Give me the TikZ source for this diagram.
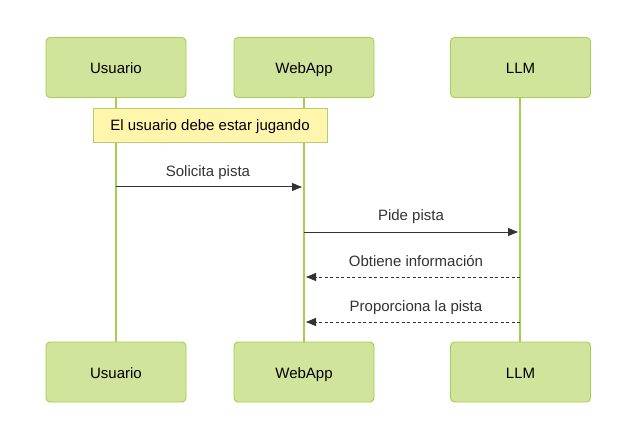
\documentclass[tikz,border=0pt]{standalone}
\usepackage{fontspec}
\setmainfont{Liberation Sans}
\usetikzlibrary{arrows.meta}
\definecolor{actfill}{HTML}{D0E49C}
\definecolor{actdraw}{HTML}{A5CF4C}
\definecolor{notefill}{HTML}{FFF5AD}
\definecolor{notedraw}{HTML}{B4CD6E}
\definecolor{ink}{HTML}{333333}
\tikzset{
  txt/.style={font=\fontsize{15pt}{18pt}\selectfont, text height=12pt, text depth=0pt},
  actor/.style={txt, draw=actdraw, fill=actfill, line width=0.9pt, rounded corners=4pt,
    minimum width=140pt, minimum height=60pt, inner sep=0pt, text=black},
  notebox/.style={txt, draw=notedraw, fill=notefill, line width=0.9pt,
    minimum width=234pt, minimum height=34pt, inner sep=0pt, text=black},
  life/.style={draw=actdraw, line width=1.8pt},
  msg/.style={draw=ink, line width=1pt, -{Triangle[length=10pt,width=8pt]}},
  ret/.style={msg, dash pattern=on 3pt off 2.5pt},
  lbl/.style={txt, text=ink, inner sep=0pt},
}
\begin{document}
\begin{tikzpicture}[x=1pt,y=-1pt]
\useasboundingbox (0,0) rectangle (633,444);
% lifelines
\coordinate (u1) at (116,98); \coordinate (u2) at (116,342);
\coordinate (w1) at (304,98); \coordinate (w2) at (304,342);
\coordinate (l1) at (520,98); \coordinate (l2) at (520,342);
\draw[life] (u1) -- (u2);
\draw[life] (w1) -- (w2);
\draw[life] (l1) -- (l2);
% actors
\node[actor] (ut) at (116,67.5) {Usuario};
\node[actor] (wt) at (304,67.5) {WebApp};
\node[actor] (lt) at (520.5,67.5) {LLM};
\node[actor] (ub) at (116,372) {Usuario};
\node[actor] (wb) at (304,372) {WebApp};
\node[actor] (lb) at (520.5,372) {LLM};
% note
\node[notebox] (note) at (210,125) {El usuario debe estar jugando};
% messages
\coordinate (m1a) at (116,187); \coordinate (m1b) at (302,187);
\coordinate (m2a) at (304,232); \coordinate (m2b) at (518,232);
\coordinate (m3a) at (520,277); \coordinate (m3b) at (306,277);
\coordinate (m4a) at (520,322); \coordinate (m4b) at (306,322);
\draw[msg] (m1a) -- (m1b);
\draw[msg] (m2a) -- (m2b);
\draw[ret] (m3a) -- (m3b);
\draw[ret] (m4a) -- (m4b);
\node[lbl] (t1) at (208,170) {Solicita pista};
\node[lbl] (t2) at (411,215) {Pide pista};
\node[lbl] (t3) at (416,260) {Obtiene información};
\node[lbl] (t4) at (416,305) {Proporciona la pista};
\end{tikzpicture}
\end{document}
